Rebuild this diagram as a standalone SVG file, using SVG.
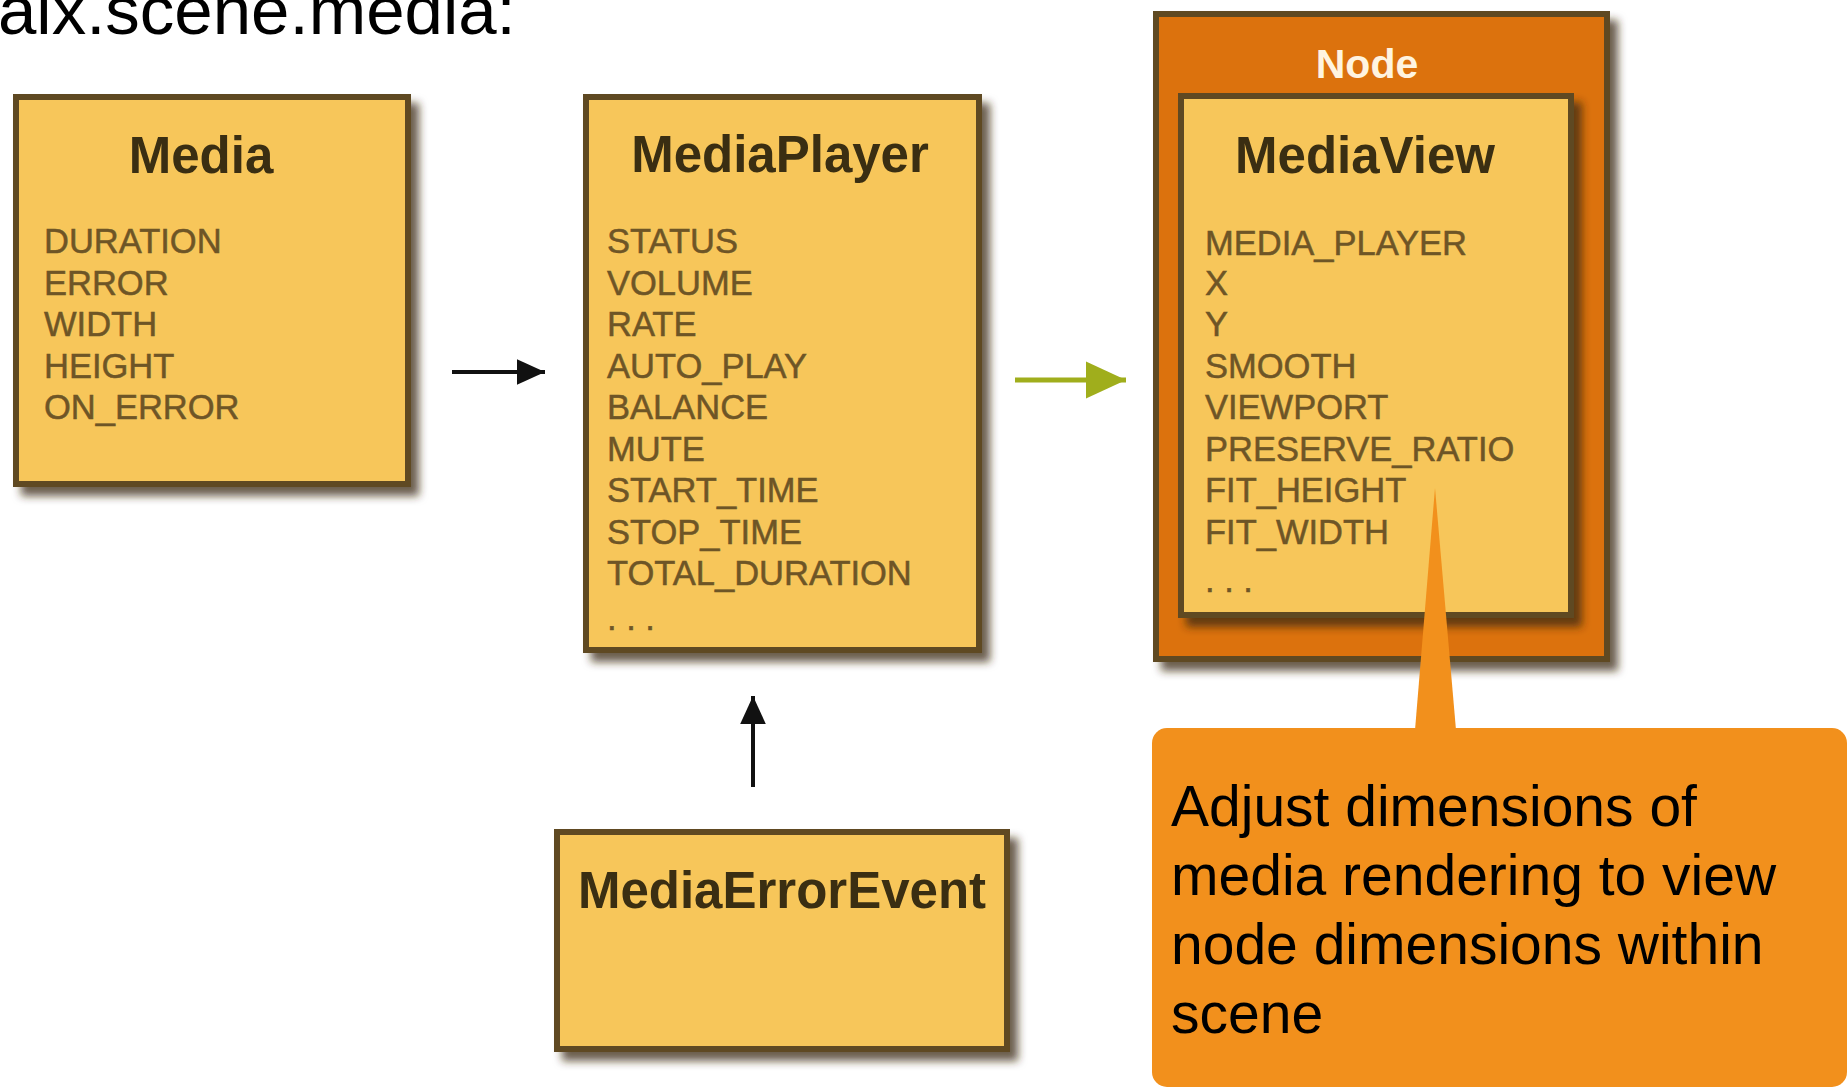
<svg xmlns="http://www.w3.org/2000/svg" width="1848" height="1087" viewBox="0 0 1848 1087">
<style>
.box{fill:#F7C65A;stroke:#5E4A24;stroke-width:6}
.outer{fill:#DC7208;stroke:#5E4A24;stroke-width:6}
.title{font-family:"Liberation Sans",Arial,sans-serif;font-weight:bold;font-size:51px;fill:#3A2E12;text-anchor:middle}
.attr{font-family:"Liberation Sans",Arial,sans-serif;font-size:34.5px;fill:#6E5526;stroke:#6E5526;stroke-width:0.5}
.call{font-family:"Liberation Sans",Arial,sans-serif;font-size:57px;fill:#000000}
</style>
<defs>
<filter id="sh" x="-10%" y="-10%" width="130%" height="130%">
<feDropShadow dx="8" dy="9" stdDeviation="4" flood-color="#3a2a10" flood-opacity="0.75"/>
</filter>
<marker id="ab" markerWidth="8" markerHeight="8" refX="7" refY="4" orient="auto" markerUnits="strokeWidth">
<path d="M0,0.8 L7,4 L0,7.2 Z" fill="#111111"/>
</marker>
<marker id="ag" markerWidth="9" markerHeight="9" refX="8" refY="4.5" orient="auto" markerUnits="strokeWidth">
<path d="M0,0.8 L8,4.5 L0,8.2 Z" fill="#A0AE1C"/>
</marker>
</defs>
<rect width="1848" height="1087" fill="#FFFFFF"/>
<text x="-2" y="34" font-family="'Liberation Sans',Arial,sans-serif" font-size="69" fill="#000000">aix.scene.media:</text>

<g id="media">
<rect class="box" x="16" y="97" width="392" height="387" filter="url(#sh)"/>
<text class="title" x="201" y="173">Media</text>
<text class="attr" x="44" y="253">DURATION</text>
<text class="attr" x="44" y="294.5">ERROR</text>
<text class="attr" x="44" y="336">WIDTH</text>
<text class="attr" x="44" y="377.5">HEIGHT</text>
<text class="attr" x="44" y="419">ON_ERROR</text>
</g>

<g id="mediaplayer">
<rect class="box" x="586" y="97" width="393" height="553" filter="url(#sh)"/>
<text class="title" x="780" y="172">MediaPlayer</text>
<text class="attr" x="607" y="253">STATUS</text>
<text class="attr" x="607" y="294.5">VOLUME</text>
<text class="attr" x="607" y="336">RATE</text>
<text class="attr" x="607" y="377.5">AUTO_PLAY</text>
<text class="attr" x="607" y="419">BALANCE</text>
<text class="attr" x="607" y="460.5">MUTE</text>
<text class="attr" x="607" y="502">START_TIME</text>
<text class="attr" x="607" y="543.5">STOP_TIME</text>
<text class="attr" x="607" y="585">TOTAL_DURATION</text>
<text class="attr" x="607" y="630">. . .</text>
</g>

<g id="node">
<rect class="outer" x="1156" y="14" width="451" height="645" filter="url(#sh)"/>
<text x="1367" y="78" font-family="'Liberation Sans',Arial,sans-serif" font-weight="bold" font-size="41" fill="#FFF4E0" text-anchor="middle">Node</text>
</g>

<g id="mediaview">
<rect class="box" x="1181" y="96" width="390" height="519" filter="url(#sh)"/>
<text class="title" x="1365" y="173">MediaView</text>
<text class="attr" x="1205" y="255">MEDIA_PLAYER</text>
<text class="attr" x="1205" y="294.5">X</text>
<text class="attr" x="1205" y="336">Y</text>
<text class="attr" x="1205" y="377.5">SMOOTH</text>
<text class="attr" x="1205" y="419">VIEWPORT</text>
<text class="attr" x="1205" y="460.5">PRESERVE_RATIO</text>
<text class="attr" x="1205" y="502">FIT_HEIGHT</text>
<text class="attr" x="1205" y="543.5">FIT_WIDTH</text>
<text class="attr" x="1205" y="592">. . .</text>
</g>

<g id="mediaerrorevent">
<rect class="box" x="557" y="832" width="450" height="217" filter="url(#sh)"/>
<text class="title" x="782" y="908">MediaErrorEvent</text>
</g>

<g id="connectors">
<line x1="452" y1="372" x2="545" y2="372" stroke="#111111" stroke-width="4" marker-end="url(#ab)"/>
<line x1="1015" y1="380" x2="1126" y2="380" stroke="#A0AE1C" stroke-width="5" marker-end="url(#ag)"/>
<line x1="753" y1="787" x2="753" y2="696" stroke="#111111" stroke-width="4" marker-end="url(#ab)"/>
</g>

<g id="callout">
<path d="M1415,730 L1435,488 L1456,730 Z" fill="#F2901C"/>
<rect x="1152" y="728" width="695" height="359" rx="15" ry="15" fill="#F2901C"/>
<text class="call" x="1171" y="826">Adjust dimensions of</text>
<text class="call" x="1171" y="895">media rendering to view</text>
<text class="call" x="1171" y="964">node dimensions within</text>
<text class="call" x="1171" y="1033">scene</text>
</g>
</svg>
